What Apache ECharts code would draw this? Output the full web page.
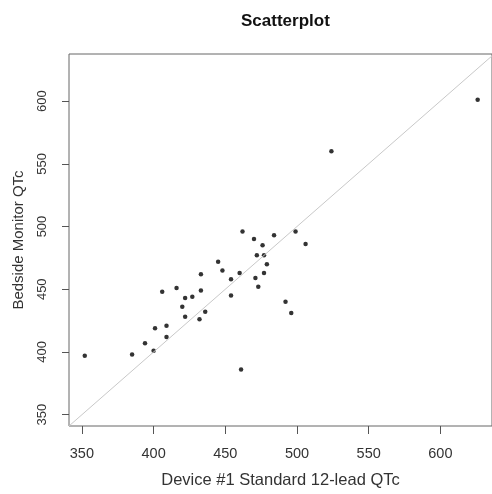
<!DOCTYPE html>
<html>
<head>
<meta charset="utf-8">
<script src="https://cdn.jsdelivr.net/npm/echarts@6/dist/echarts.min.js"></script>
<style>html,body{margin:0;padding:0;background:#fff}#c{width:492px;height:494px}</style>
</head>
<body>
<div id="c"></div>
<script>
var device12lead = [352,385,394,400,401,406,409,409,416,420,422,422,427,432,433,433,436,445,448,454,454,460,461,471,473,477,479,472,477,476,470,462,484,499,506,492,496,524,626];
var bedsideMonitor = [397,398,407,401,419,448,412,421,451,436,443,428,444,426,449,462,432,472,465,458,445,463,386,459,452,463,470,477,477,485,490,496,493,496,486,440,431,560,601];
var xTicks = [350,400,450,500,550,600];
var yTicks = [350,400,450,500,550,600];
var xRange = [341,636];
var yRange = [341,637.5];

var points = device12lead.map(function(v,i){return [v, bedsideMonitor[i]];});
var font = 'Liberation Sans, Arial, sans-serif';
var chart = echarts.init(document.getElementById('c'));
chart.setOption({
  animation:false,
  backgroundColor:'#fff',
  title:{text:'Scatterplot', left:236, top:8, textStyle:{fontFamily:font, fontSize:17, fontWeight:'bold', color:'#111'}},
  grid:{left:69, top:54, right:0, bottom:68, show:true, borderColor:'#666', borderWidth:1, backgroundColor:'transparent'},
  xAxis:{type:'value', min:xRange[0], max:xRange[1],
    name:'Device #1 Standard 12-lead QTc', nameLocation:'middle', nameGap:46,
    nameTextStyle:{fontFamily:font, fontSize:16.5, color:'#333'},
    axisLine:{show:false}, splitLine:{show:false},
    axisTick:{show:true, inside:false, length:8, customValues:xTicks, lineStyle:{color:'#555'}},
    axisLabel:{customValues:xTicks, margin:20, fontFamily:font, fontSize:14.5, color:'#333'}},
  yAxis:{type:'value', min:yRange[0], max:yRange[1],
    name:'Bedside Monitor QTc', nameLocation:'middle', nameGap:43,
    nameTextStyle:{fontFamily:font, fontSize:15, color:'#333'},
    axisLine:{show:false}, splitLine:{show:false},
    axisTick:{show:true, inside:false, length:7, customValues:yTicks, lineStyle:{color:'#555'}},
    axisLabel:{customValues:yTicks, rotate:90, margin:20, fontFamily:font, fontSize:13, color:'#333'}},
  series:[{
    type:'scatter', data:points, symbolSize:4.5, itemStyle:{color:'#000'},
    markLine:{silent:true, symbol:['none','none'], animation:false,
      lineStyle:{color:'#c8c8c8', width:1, type:'solid'}, label:{show:false},
      data:[[{coord:[xRange[0], xRange[0]]},{coord:[xRange[1], xRange[1]]}]]}
  }]
});
</script>
</body>
</html>
